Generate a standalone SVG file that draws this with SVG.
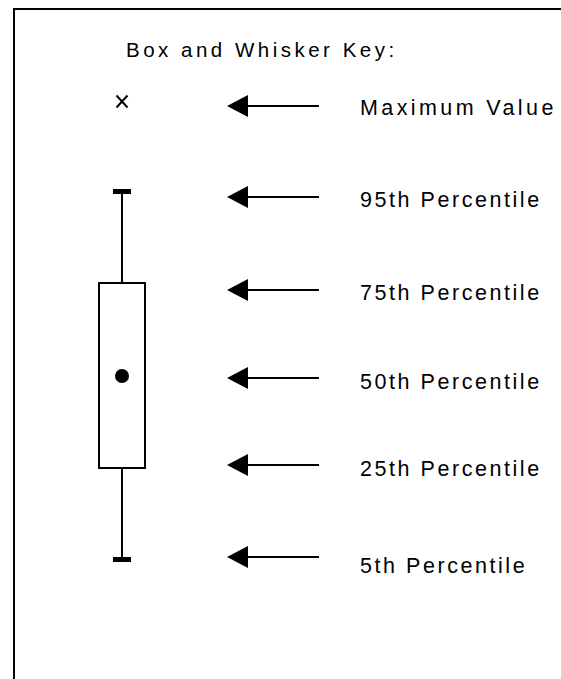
<svg xmlns="http://www.w3.org/2000/svg" width="561" height="679" viewBox="0 0 561 679">
<defs>
<style>
.lbl{font-family:"Liberation Sans",Arial,sans-serif;font-size:21.5px;letter-spacing:2.55px;fill:#000}
.wide{letter-spacing:3.4px}
.title{font-family:"Liberation Sans",Arial,sans-serif;font-size:20.5px;letter-spacing:3.5px;fill:#000}
.ln{stroke:#000;stroke-width:2;fill:none}
.head{fill:#000}
</style>
</defs>
<rect width="561" height="679" fill="#fff"/>
<path class="ln" d="M14 679 V9 H561"/>
<text class="title" x="126" y="57">Box and Whisker Key:</text>
<g id="plot">
<path class="ln" d="M116.5 95.5 L127.5 107.5 M127.5 95.5 L116.5 107.5"/>
<rect x="113" y="189" width="18" height="5" fill="#000"/>
<line class="ln" x1="122" y1="191" x2="122" y2="283"/>
<rect class="ln" x="99" y="283" width="46" height="185"/>
<circle cx="122" cy="376" r="7" fill="#000"/>
<line class="ln" x1="122" y1="468" x2="122" y2="560"/>
<rect x="113" y="557" width="18" height="5" fill="#000"/>
</g>
<g id="connectors">
<g id="a1"><line class="ln" x1="245" y1="106" x2="319" y2="106"/><polygon class="head" points="227,106 248,95 248,117"/></g>
<g id="a2"><line class="ln" x1="245" y1="197" x2="319" y2="197"/><polygon class="head" points="227,197 248,186 248,208"/></g>
<g id="a3"><line class="ln" x1="245" y1="290" x2="319" y2="290"/><polygon class="head" points="227,290 248,279 248,301"/></g>
<g id="a4"><line class="ln" x1="245" y1="378" x2="319" y2="378"/><polygon class="head" points="227,378 248,367 248,389"/></g>
<g id="a5"><line class="ln" x1="245" y1="465" x2="319" y2="465"/><polygon class="head" points="227,465 248,454 248,476"/></g>
<g id="a6"><line class="ln" x1="245" y1="557" x2="319" y2="557"/><polygon class="head" points="227,557 248,546 248,568"/></g>
</g>
<g id="labels">
<text class="lbl wide" x="360" y="115">Maximum Value</text>
<text class="lbl" x="360" y="207">95th Percentile</text>
<text class="lbl" x="360" y="300">75th Percentile</text>
<text class="lbl" x="360" y="389">50th Percentile</text>
<text class="lbl" x="360" y="476">25th Percentile</text>
<text class="lbl" x="360" y="573">5th Percentile</text>
</g>
</svg>
